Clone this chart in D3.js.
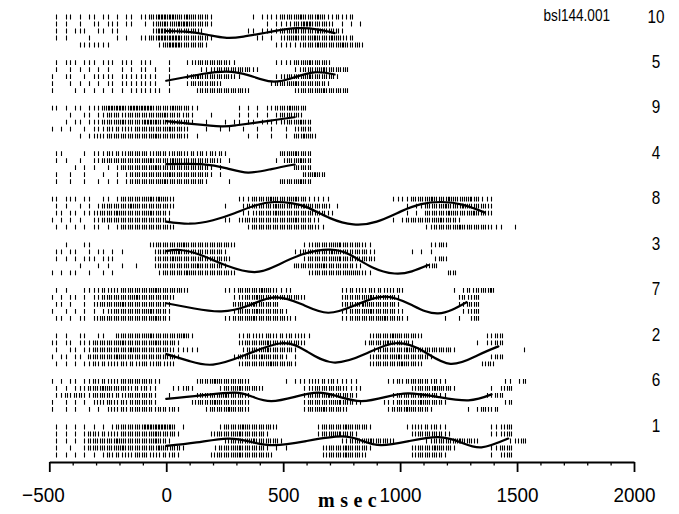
<!DOCTYPE html>
<html><head><meta charset="utf-8">
<script src="https://cdn.jsdelivr.net/npm/d3@7"></script>
<style>body{margin:0;background:#fff}svg{display:block}</style>
</head><body>
<svg id="chart" width="679" height="514"></svg>
<script>
// ---- data ----
// blocks from top to bottom
const blockOrder = ["10","5","9","4","8","3","7","2","6","1"];
// spike counts per 20 ms bin, starting at -500 ms (one string per trial row)
const binStart = -500, binWidth = 20;
const rows10 = [
 "0101101011 0110101101 1223333223 2222100000 0001011112 2223222321 12112",
 "0101001001 1011101100 1022322333 2222100000 0000001011 1122332222 1010101",
 "0101011100 1101100000 0023332222 2210000000 0011011112 2232222322 221",
 "0101000010 0000101001 1223333322 2222100000 0000110101 2232223222 32212",
 "0000001111 1110000000 0001233322 2221000000 0000000011 1111222322 2232222"];
const rows5 = [
 "0101110111 0111011101 1100010001 1222222211 0000000011 1122232222",
 "0100101010 1010010101 1010010000 0011122222 2221100000 0011222232 2222",
 "1001100101 1111011111 1110010001 2322222221 1000000011 2222232222 21",
 "1000101010 1011011111 1110010001 2222221000 0000000122 2232222221",
 "1000010101 0101010111 1111010000 0122222222 2210000000 0012222232 2222"];
const rows9 = [
 "1101011011 1233332333 3322223222 1100000000 1010101122 23222",
 "0000100110 1122212222 2222322212 1000100000 1010101012 2222",
 "0001011011 1222232222 3332222222 1001000101 1011011111 222322",
 "1010100101 1121212122 2222232221 0001001010 0100100100 101222",
 "0000001011 2122222222 2232222221 0100000000 0010100100 1022322"];
const rows4 = [
 "0110000101 1121212222 2122212221 2121212100 0000000002 223222",
 "0101001001 1222222222 2322223222 2222221010 0000000010 222322",
 "0000010101 0010122222 2232222222 2222101000 0000000000 002222",
 "0100100100 0100101222 2222232222 2222101000 0000000000 000022322",
 "0100100100 1010101222 2222322222 2221000010 0000000002 222322"];
const rows8 = [
 "1101110110 0110122222 2323221000 0000000000 1112222322 2232211111 0000000000 0001111222 2322232223 22111",
 "0101001010 1222222322 2222221000 0000000100 0122222232 2222322222 0100000000 0000001011 2222322232 22221",
 "0110110111 2222322222 2322210000 0000000000 0111222232 2222222221 1000000000 0000001010 2222232222 32221",
 "1010101001 1222222222 2222210000 0000000110 1222222222 22322211 000000000000 0001012222 22232221",
 "0101010101 1010122222 2222221000 0000000000 0012222222 222222211 00000000000 0000000000 1122222322 2222111001"];
const rows3 = [
 "0001000110 0000000000 0122222232 2222222221 0000000000 0000112222 2322222110 0000000000 01122",
 "0110110010 1101010000 0012222322 2222222100 0000000000 0011222222 3222222211 0000000101 01",
 "0101010111 0111000000 0012223222 2222222210 0000000000 0000122222 2322222221 0000000000 00122",
 "0000001000 1010010010 0012222222 2322222100 0000000000 0022222232 2222211 0000000000000 122",
 "1010110010 0101000000 0001222223 2222222221 0000000000 0000012222 222232211 00000000000 0000022"];
const rows7 = [
 "0101000111 1212122222 2232222221 0000000111 2222232211 1100000000 0011212121 2121210000 0000001012 12223",
 "1010110101 1222222232 2222221 000000000000 11222322222 22221 0000000 12222232 22221 000000000000 12122",
 "0110100101 2222232222 222221 0000000000000 2222322222 0000000000000 1222232222221 000000000000 11222",
 "1001010101 0112222222 232221 0000000000000 122223222221 00000000000 11222232222211 000000000000 1122",
 "0110101101 2222222222 223221 00000000000 1122223222222211 000000000 112222222322211 0000000 10010022"];
const rows2 = [
 "0101001100 1100222222 2322222232 1000000000 1121212212 121211 000000000000 122223222221 0000000000000 1122",
 "1101101112 2222232222 22322221 000000000000 122222322222221 000000000000 12222322221 0000000000000 101122",
 "0100110112 2222222322 2222221111 11 000000000 122223222221 0000000000000000 122222232222222221 00000000000000 1",
 "1011011022 2222322222 22222221 00000000000 122222322221 01 000000000000000 12222232222221 000000000000 122",
 "0101010112 1212121212 2122121 0000000000000 1222222322221 000000000000000 122222232221 000000000000 122"];
const rows6 = [
 "1010110112 1212122222 2211 0000000 122232222221 0000000 1011112121211111 000000 1121222221211 000000000000 11012",
 "0101011122 2322222121 211 000 11121 00000 1222322221 00000000 1122222221111 0000000000 1222232221 0000000 10122",
 "0112122112 2221212222 221 00 1 00000 122222322221 00000000000 122223222221 0000000 122222322211 00000000 1122",
 "1001010101 2122121222 221 0000000 1222232222221 00000000000 1222222322211 0000 11122222322221 000000000000 12",
 "1001010010 1012121222 22122121 00000 1222232221 00000000000 1222322221 00000000 1222322221 0000000 1012212"];
const rows1 = [
 "0101010101 0101222222 3333332 01 0000000 1222232222221 00000000 122222322221 0000000 112121211 000000000 11122",
 "0101010122 1212122222 22322221 000000 1222223222221 0000000000 122232221 00000000000 122222211 00000000 11122",
 "0101010122 2222322222 223221 00000000000 1222223222221 000000000000 112222322221 000000 112222232221 000000 1122",
 "0100100122 2222232222 222322221 000000 122223222221 0101 0000000 12222322221 00000000 1222232221 0000000 11222",
 "0101010101 0121212122 21212121 000000 12222232222221 0000000000 1222232221 000000000 12222221 000000000 10122"];

// fitted curves: [time ms, level in row units (0 = top trial row, 4 = bottom trial row)]
const curve10 = [[0,2.0],[80,2.1],[170,2.5],[250,2.95],[330,2.8],[450,2.1],[560,1.6],[650,1.8],[720,2.3]];
const curve5  = [[0,2.6],[80,2.1],[160,1.6],[257,1.3],[350,1.8],[450,2.7],[540,2.2],[634,1.4],[720,1.7]];
const curve9  = [[0,1.85],[120,2.3],[235,2.6],[300,2.45],[377,2.1],[463,1.7],[549,1.3]];
const curve4  = [[0,1.5],[150,1.5],[260,2.1],[350,2.7],[450,2.2],[549,1.55]];
const curve8  = [[0,3.2],[100,3.5],[200,3.0],[292,2.0],[380,0.9],[463,0.4],[540,0.6],[606,1.2],[700,2.7],[800,3.6],[900,3.2],[1006,1.7],[1090,0.7],[1177,0.4],[1270,0.8],[1362,1.9]];
const curve3  = [[0,0.9],[60,0.75],[150,1.5],[260,3.0],[377,3.9],[470,3.0],[580,1.4],[700,0.7],[790,1.5],[880,3.2],[976,4.1],[1050,3.8],[1120,2.9]];
const curve7  = [[0,1.85],[120,2.6],[235,3.0],[350,2.2],[463,1.0],[580,2.0],[692,3.2],[810,2.1],[934,0.9],[1050,2.1],[1163,3.3],[1284,1.7]];
const curve2  = [[0,2.6],[100,3.6],[200,4.1],[340,2.7],[492,1.05],[600,2.2],[715,3.8],[850,2.6],[980,1.05],[1100,2.2],[1215,4.0],[1330,2.8],[1420,1.5]];
const curve6  = [[0,2.5],[150,2.0],[292,1.6],[370,2.2],[449,2.8],[550,2.2],[649,1.6],[740,2.2],[835,2.8],[940,2.2],[1035,1.7],[1160,2.2],[1292,2.7],[1391,1.85]];
const curve1  = [[0,2.7],[130,2.2],[264,1.65],[360,2.1],[463,2.6],[600,2.0],[749,1.35],[840,2.0],[920,2.6],[1040,2.0],[1163,1.45],[1260,2.2],[1348,2.9],[1462,1.65]];

const xMajorTicks = [-500, 0, 500, 1000, 1500, 2000];
const xLabel = "msec";
const fileLabel = "bsl144.001";

// ---- table built from the arrays ----
const rowsByBlock = {"10":rows10,"5":rows5,"9":rows9,"4":rows4,"8":rows8,"3":rows3,"7":rows7,"2":rows2,"6":rows6,"1":rows1};
const curveByBlock = {"10":curve10,"5":curve5,"9":curve9,"4":curve4,"8":curve8,"3":curve3,"7":curve7,"2":curve2,"6":curve6,"1":curve1};

// ---- layout ----
const svg = d3.select("#chart");
const x = d3.scaleLinear().domain([-500, 2000]).range([49.3, 634]);
const blockY = d3.scalePoint().domain(blockOrder).range([17, 427]);
const labelY = d3.scalePoint().domain(blockOrder).range([16, 425]);
const rowStep = 7, tickHalf = 2.4;

blockOrder.forEach(b => {
  const top = blockY(b);
  const yRow = d3.scaleLinear().domain([0, 4]).range([top, top + 4 * rowStep]);
  const g = svg.append("g").attr("class", "block");
  rowsByBlock[b].forEach((s, r) => {
    const counts = s.replace(/ /g, "").split("").map(Number);
    const times = [];
    counts.forEach((n, i) => {
      for (let k = 0; k < n; k++) times.push(binStart + i * binWidth + binWidth * (k + 0.5) / n);
    });
    const yc = yRow(r);
    const d = times.map(t => {
      const px = Math.round(x(t)) + 0.5;
      return `M${px},${yc - tickHalf}V${yc + tickHalf}`;
    }).join("");
    g.append("path").attr("d", d).attr("stroke", "#000").attr("stroke-width", 1.1).attr("fill", "none");
  });
  const line = d3.line().x(d => x(d[0])).y(d => yRow(d[1])).curve(d3.curveNatural);
  g.append("path").datum(curveByBlock[b]).attr("d", line)
    .attr("fill", "none").attr("stroke", "#000").attr("stroke-width", 2.2)
    .attr("stroke-linecap", "round");
  // block label
  const ly = labelY(b);
  svg.append("text").attr("transform", `translate(656,${ly + 6.5}) scale(0.85,1)`)
    .attr("text-anchor", "middle").attr("font-family", "Liberation Sans, Arial, sans-serif")
    .attr("font-size", 18).attr("fill", "#000").text(b);
});

svg.append("text").attr("transform", `translate(610,21) scale(0.8,1)`)
  .attr("text-anchor", "end").attr("font-family", "Liberation Sans, Arial, sans-serif")
  .attr("font-size", 17).attr("fill", "#000").text(fileLabel);

// ---- axis ----
const axisY = 462;
const minor = x.ticks(25).filter(v => !xMajorTicks.includes(v));
const minorAxis = d3.axisBottom(x).tickValues(minor).tickSize(3.5).tickSizeOuter(0).tickFormat("");
const ga2 = svg.append("g").attr("transform", `translate(0,${axisY})`).call(minorAxis);
ga2.select(".domain").remove();
ga2.selectAll(".tick line").attr("stroke-width", 1.3);

const majorAxis = d3.axisBottom(x).tickValues(xMajorTicks).tickSize(10).tickSizeOuter(0).tickPadding(15)
  .tickFormat(v => v < 0 ? "\u2212" + Math.abs(v) : String(v));
const ga = svg.append("g").attr("transform", `translate(0,${axisY})`).call(majorAxis);
ga.select(".domain").attr("stroke-width", 2.2);
ga.selectAll(".tick line").attr("stroke-width", 1.8);
ga.selectAll(".tick text").attr("font-family", "Liberation Sans, Arial, sans-serif")
  .attr("font-size", 21).attr("fill", "#000").attr("transform", "scale(0.9,1)");
ga.selectAll(".tick text").each(function() {
  const t = d3.select(this);
  if (t.text().startsWith("\u2212")) {
    const w = this.getSubStringLength(0, 1);
    t.attr("dx", -w / 2 - 1);
  }
});

svg.append("text").attr("x", 318).attr("y", 507).attr("text-anchor", "start")
  .attr("font-family", "Liberation Serif, Times New Roman, serif").attr("font-weight", "bold")
  .attr("font-size", 20).attr("letter-spacing", 5.5).attr("fill", "#000").text(xLabel);
</script>
</body></html>
